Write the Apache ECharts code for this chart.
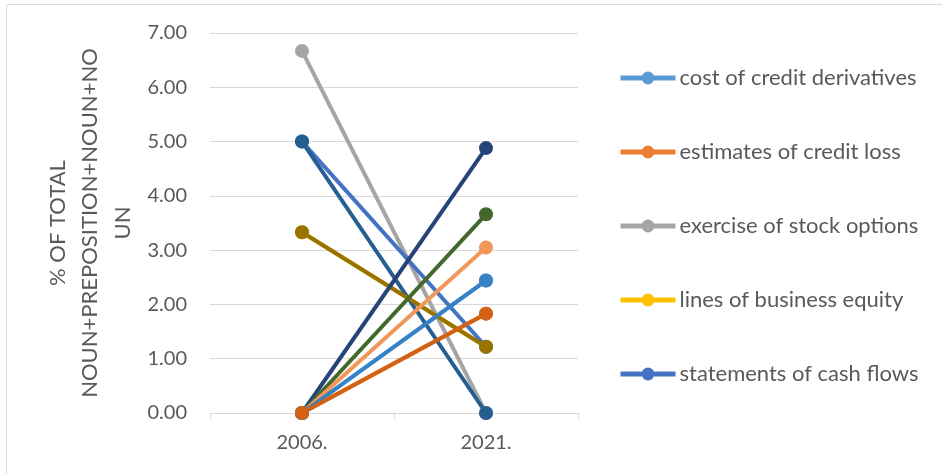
<!DOCTYPE html>
<html>
<head>
<meta charset="utf-8">
<script src="https://cdn.jsdelivr.net/npm/echarts@6/dist/echarts.min.js"></script>
<style>
  html, body { margin: 0; padding: 0; background: #ffffff; }
  #chart { width: 942px; height: 474px; }
</style>
</head>
<body>
<div id="chart"></div>
<script>
// Years on the category axis
const years = ['2006.', '2021.'];

// Named phrases shown in the legend
const legendNames = [
  'cost of credit derivatives',
  'estimates of credit loss',
  'exercise of stock options',
  'lines of business equity',
  'statements of cash flows'
];

// Share (%) per phrase, 2006 then 2021
const costOfCreditDerivatives = [0.00, 2.44];
const estimatesOfCreditLoss   = [0.00, 1.83];
const exerciseOfStockOptions  = [6.67, 0.00];
const linesOfBusinessEquity   = [3.33, 1.22];
const statementsOfCashFlows   = [5.00, 1.22];
const phrase6  = [5.00, 0.00];
const phrase7  = [3.33, 1.22];
const phrase8  = [0.00, 4.88];
const phrase9  = [0.00, 3.66];
const phrase10 = [0.00, 3.05];
const phrase11 = [0.00, 2.44];
const phrase12 = [0.00, 1.83];

const yTicks = { min: 0, max: 7, interval: 1 };

const seriesDefs = [
  { name: legendNames[0], data: costOfCreditDerivatives, color: '#5B9BD5' },
  { name: legendNames[1], data: estimatesOfCreditLoss,   color: '#ED7D31' },
  { name: legendNames[2], data: exerciseOfStockOptions,  color: '#A5A5A5' },
  { name: legendNames[3], data: linesOfBusinessEquity,   color: '#FFC000' },
  { name: legendNames[4], data: statementsOfCashFlows,   color: '#4472C4' },
  { name: 'phrase 6',  data: phrase6,  color: '#255E91' },
  { name: 'phrase 7',  data: phrase7,  color: '#997300' },
  { name: 'phrase 8',  data: phrase8,  color: '#264478' },
  { name: 'phrase 9',  data: phrase9,  color: '#43682B' },
  { name: 'phrase 10', data: phrase10, color: '#F1975A' },
  { name: 'phrase 11', data: phrase11, color: '#3682C6' },
  { name: 'phrase 12', data: phrase12, color: '#D26114' }
];

const FONT = 'Lato';
const TEXT = '#595959';

const chart = echarts.init(document.getElementById('chart'), null, { renderer: 'canvas' });

chart.setOption({
  animation: false,
  backgroundColor: '#ffffff',
  textStyle: { fontFamily: FONT },
  graphic: [{
    type: 'rect',
    shape: { x: 6.5, y: 4.5, width: 1000, height: 1000 },
    style: { fill: 'none', stroke: '#d9d9d9', lineWidth: 1 },
    silent: true
  }],
  grid: { left: 210, right: 364, top: 33, bottom: 61 },
  legend: {
    orient: 'vertical',
    left: 613,
    top: 62,
    padding: 5,
    itemWidth: 55,
    itemHeight: 16,
    itemGap: 52,
    data: legendNames,
    lineStyle: { width: 5 },
    textStyle: { fontFamily: FONT, fontSize: 22, color: TEXT, lineHeight: 20, padding: [0, 0, 0, -1] }
  },
  xAxis: {
    type: 'category',
    data: years,
    boundaryGap: true,
    axisLine: { lineStyle: { color: '#d9d9d9', width: 1 } },
    axisTick: { show: true, length: 6, lineStyle: { color: '#d9d9d9' } },
    axisLabel: { fontFamily: FONT, fontSize: 20, color: TEXT, margin: 20 },
    splitLine: { show: false }
  },
  yAxis: {
    type: 'value',
    min: yTicks.min,
    max: yTicks.max,
    interval: yTicks.interval,
    name: '% OF TOTAL\nNOUN+PREPOSITION+NOUN+NO\nUN',
    nameLocation: 'middle',
    nameRotate: 90,
    nameGap: 71,
    nameTextStyle: { fontFamily: FONT, fontSize: 22, color: TEXT, lineHeight: 32.5, align: 'center' },
    axisLine: { show: false },
    axisTick: { show: false },
    axisLabel: {
      fontFamily: FONT, fontSize: 20, color: TEXT, margin: 23,
      formatter: v => v.toFixed(2)
    },
    splitLine: { lineStyle: { color: '#d9d9d9', width: 1 } }
  },
  series: seriesDefs.map(s => ({
    name: s.name,
    type: 'line',
    data: s.data,
    symbol: 'circle',
    symbolSize: 14,
    lineStyle: { color: s.color, width: 4 },
    itemStyle: { color: s.color },
    emphasis: { disabled: true }
  }))
});
</script>
</body>
</html>
